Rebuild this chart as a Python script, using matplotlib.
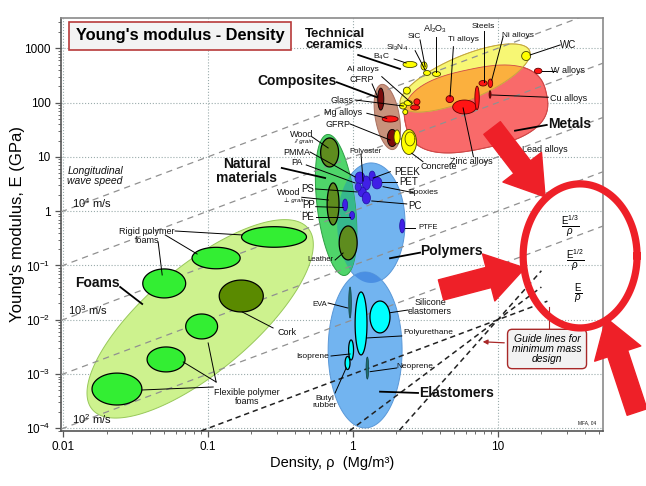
import numpy as np
import matplotlib
matplotlib.use("Agg")
import matplotlib.pyplot as plt
from matplotlib.ticker import FixedLocator, FuncFormatter, LogLocator, NullFormatter

plt.rcParams['font.family'] = ['Liberation Sans', 'DejaVu Sans']
plt.rcParams['mathtext.fontset'] = 'custom'
plt.rcParams['mathtext.rm'] = 'Liberation Sans'
plt.rcParams['mathtext.it'] = 'Liberation Sans:italic'
plt.rcParams['mathtext.bf'] = 'Liberation Sans:bold'

# axis ranges (density Mg/m^3, modulus GPa)
XLIM = (0.0097, 53.2)
YLIM = (8.95e-5, 3614)
x_ticks = [0.01, 0.1, 1, 10]
x_tick_labels = ['0.01', '0.1', '1', '10']
y_ticks = [1e-4, 1e-3, 1e-2, 1e-1, 1, 10, 100, 1000]

# longitudinal wave speed lines, E/rho = const
speed_consts = [100, 10, 1, 0.1, 0.01]
# guide lines for minimum mass design, all through this point
guide_point = (10, 0.01)
guide_slopes = [1, 2, 3]
guide_start = [0.09, 0.95, 2.1]
guide_end = [22, 20, 20]

# envelopes: (rho, E, half-width, half-height, angle); sizes in decades of rho
foam_env = (0.0885, 0.0104, 0.972, 0.365, 40)
natural_env = (0.767, 1.30, 0.49, 0.131, 97)
polymer_env = (1.337, 0.607, 0.234, 0.414, 0)
elastomer_env = (1.216, 0.00278, 0.255, 0.538, 0)
composite_env = (1.73, 54.3, 0.228, 0.083, 100)
ceramic_env = (5.95, 284, 0.483, 0.152, 23)
metal_env = (7.08, 76.3, 0.497, 0.276, 12)

# material bubbles: (rho, E, half-width, half-height)
foam_cells = [(0.286, 0.335, 0.224, 0.071), (0.114, 0.137, 0.166, 0.074),
              (0.050, 0.0467, 0.148, 0.100), (0.0906, 0.00753, 0.110, 0.086),
              (0.0515, 0.00186, 0.131, 0.086), (0.0236, 5.3e-4, 0.172, 0.110)]
cork_cell = (0.170, 0.0274, 0.152, 0.110)
natural_cells = [(0.692, 12.05, 0.062, 0.100), (0.731, 1.36, 0.041, 0.145),
                 (0.929, 0.26, 0.062, 0.117)]
polymer_cells = [(0.885, 1.30, 0.017, 0.041), (0.989, 0.834, 0.017, 0.028),
                 (2.19, 0.534, 0.017, 0.048), (1.12, 4.09, 0.034, 0.041),
                 (1.24, 3.31, 0.028, 0.048), (1.36, 4.45, 0.021, 0.034),
                 (1.47, 3.31, 0.034, 0.041), (1.16, 2.26, 0.028, 0.034),
                 (1.24, 1.75, 0.028, 0.041), (1.09, 2.79, 0.021, 0.028)]
elastomer_cells = [(1.14, 0.00855, 0.041, 0.217), (1.54, 0.01126, 0.069, 0.11),
                   (0.973, 0.00278, 0.017, 0.069), (0.92, 0.0016, 0.017, 0.045)]
elastomer_thin = [(0.957, 0.0208, 0.009, 0.107), (1.26, 0.00129, 0.009, 0.076)]
ceramic_cells = [(2.48, 503, 0.048, 0.021), (3.10, 472, 0.021, 0.028),
                 (3.25, 351, 0.024, 0.017), (3.78, 336, 0.028, 0.017),
                 (15.7, 721, 0.031, 0.031), (2.36, 166, 0.024, 0.024),
                 (2.44, 18.8, 0.052, 0.086), (2.02, 23.3, 0.021, 0.048),
                 (2.22, 86.5, 0.024, 0.021), (2.41, 98.4, 0.028, 0.017),
                 (2.30, 67.1, 0.017, 0.017)]
concrete_ring = (2.48, 21.4, 0.034, 0.048)
metal_cells = [(2.77, 103, 0.021, 0.021), (2.69, 81.3, 0.031, 0.017),
               (4.67, 116, 0.026, 0.024), (5.89, 83, 0.081, 0.048),
               (7.92, 227, 0.028, 0.019), (8.89, 227, 0.016, 0.029),
               (7.2, 122, 0.015, 0.081), (19.0, 382, 0.026, 0.019),
               (1.81, 49.9, 0.055, 0.021)]
cu_cell = (8.85, 141, 0.007, 0.026)
composite_cells = [(1.56, 116, 0.021, 0.076), (1.87, 22.3, 0.034, 0.059)]

# labels: (text, log10 rho, log10 E, size, style, ha)
labels = [
    ("Rigid polymer\nfoams", -1.419, -0.457, 6.5, 'n', 'center'),
    ("Foams", -1.763, -1.322, 10, 'b', 'center'),
    ("Cork", -0.453, -2.243, 6.5, 'n', 'center'),
    ("Flexible polymer\nfoams", -0.729, -3.422, 6.5, 'n', 'center'),
    ("Longitudinal\nwave speed", -1.970, 0.648, 7.5, 'i', 'left'),
    ("10$^4$ m/s", -1.936, 0.151, 8, 'n', 'left'),
    ("10$^3$ m/s", -1.963, -1.820, 8, 'n', 'left'),
    ("10$^2$ m/s", -1.936, -3.827, 8, 'n', 'left'),
    ("Wood", -0.352, 1.403, 6.5, 'n', 'center'),
    ("// grain", -0.336, 1.280, 4.5, 'i', 'center'),
    ("PMMA", -0.386, 1.085, 6.5, 'n', 'center'),
    ("PA", -0.386, 0.888, 6.5, 'n', 'center'),
    ("Natural\nmaterials", -0.731, 0.740, 10, 'b', 'center'),
    ("PS", -0.308, 0.409, 7, 'n', 'center'),
    ("Wood", -0.439, 0.341, 6.5, 'n', 'center'),
    ("⊥ grain", -0.403, 0.206, 4.5, 'i', 'center'),
    ("PP", -0.308, 0.114, 7, 'n', 'center'),
    ("PE", -0.308, -0.101, 7, 'n', 'center'),
    ("Leather", -0.225, -0.899, 5.5, 'n', 'center'),
    ("Polyester", 0.085, 1.096, 5.5, 'n', 'center'),
    ("PEEK", 0.372, 0.727, 7, 'n', 'center'),
    ("PET", 0.388, 0.532, 7, 'n', 'center'),
    ("Epoxies", 0.484, 0.335, 6, 'n', 'center'),
    ("PC", 0.430, 0.095, 7, 'n', 'center'),
    ("PTFE", 0.519, -0.309, 5.5, 'n', 'center'),
    ("Polymers", 0.683, -0.727, 10, 'b', 'center'),
    ("EVA", -0.230, -1.727, 5.5, 'n', 'center'),
    ("Silicone\nelastomers", 0.533, -1.764, 6.5, 'n', 'center'),
    ("Polyurethane", 0.519, -2.243, 6, 'n', 'center'),
    ("Isoprene", -0.274, -2.685, 6, 'n', 'center'),
    ("Butyl\nrubber", -0.191, -3.514, 6, 'n', 'center'),
    ("Neoprene", 0.430, -2.864, 6, 'n', 'center'),
    ("Elastomers", 0.717, -3.354, 10, 'b', 'center'),
    ("Technical\nceramics", -0.329, 3.162, 9.5, 'b', 'left'),
    ("B$_4$C", 0.200, 2.845, 6, 'n', 'center'),
    ("Si$_3$N$_4$", 0.303, 3.0, 6, 'n', 'center'),
    ("SiC", 0.425, 3.214, 6, 'n', 'center'),
    ("Al$_2$O$_3$", 0.568, 3.368, 6.5, 'n', 'center'),
    ("Ti alloys", 0.763, 3.153, 6, 'n', 'center'),
    ("Steels", 0.901, 3.398, 6, 'n', 'center'),
    ("Ni alloys", 1.142, 3.232, 6, 'n', 'center'),
    ("WC", 1.487, 3.061, 7, 'n', 'center'),
    ("W alloys", 1.487, 2.587, 6.5, 'n', 'center'),
    ("Cu alloys", 1.487, 2.066, 6.5, 'n', 'center'),
    ("Metals", 1.499, 1.606, 10, 'b', 'center'),
    ("Lead alloys", 1.328, 1.140, 6.5, 'n', 'center'),
    ("Zinc alloys", 0.821, 0.915, 6.5, 'n', 'center'),
    ("Concrete", 0.590, 0.820, 6.5, 'n', 'center'),
    ("Al alloys", 0.069, 2.613, 6, 'n', 'center'),
    ("CFRP", 0.062, 2.416, 6.5, 'n', 'center'),
    ("Composites", -0.386, 2.403, 10, 'b', 'center'),
    ("Glass", -0.076, 2.035, 6.5, 'n', 'center'),
    ("Mg alloys", -0.065, 1.814, 6.5, 'n', 'center'),
    ("GFRP", -0.099, 1.600, 6.5, 'n', 'center'),
    ("MFA, 04", 1.616, -3.901, 3.5, 'n', 'center'),
]

# leader lines: (log rho1, log E1, log rho2, log E2)
leaders = [
    (-1.226, -0.365, -0.763, -0.438), (-1.343, -0.567, -1.315, -1.175),
    (-1.294, -0.438, -1.074, -0.789), (-0.763, -1.856, -0.550, -2.151),
    (-0.963, -3.238, -1.453, -3.293), (-0.943, -3.146, -1.170, -2.777),
    (-0.943, -3.146, -0.998, -2.427),
    (-0.283, 1.372, -0.170, 1.164), (-0.295, 1.090, 0.016, 0.630),
    (-0.321, 0.851, 0.016, 0.519), (-0.256, 0.409, 0.030, 0.354),
    (-0.352, 0.256, -0.168, 0.206), (-0.256, 0.083, -0.067, 0.067),
    (-0.256, -0.101, -0.019, -0.101), (-0.122, -0.899, -0.067, -0.770),
    (0.057, 1.035, 0.071, 0.556), (0.259, 0.727, 0.141, 0.611),
    (0.303, 0.532, 0.200, 0.532), (0.417, 0.341, 0.209, 0.451),
    (0.372, 0.133, 0.131, 0.188), (0.430, -0.315, 0.361, -0.315),
    (-0.170, -1.691, -0.035, -1.783), (0.381, -1.820, 0.257, -1.870),
    (0.338, -2.298, 0.097, -2.335), (-0.150, -2.667, -0.019, -2.630),
    (-0.122, -3.348, -0.046, -2.888), (0.303, -2.888, 0.119, -2.956),
    (0.285, 2.803, 0.368, 2.729), (0.430, 2.956, 0.499, 2.600),
    (0.464, 3.153, 0.499, 2.661), (0.574, 3.214, 0.574, 2.569),
    (0.694, 3.029, 0.671, 2.109), (0.906, 3.324, 0.906, 2.385),
    (1.037, 3.214, 0.959, 2.416), (1.430, 3.061, 1.223, 2.877),
    (1.395, 2.587, 1.303, 2.587), (1.349, 2.098, 0.959, 2.140),
    (1.156, 1.140, 1.108, 1.188), (0.832, 1.004, 0.761, 1.901),
    (0.484, 0.912, 0.407, 1.066), (0.200, 2.477, 0.407, 1.987),
    (0.133, 2.343, 0.172, 2.103), (0.016, 2.048, 0.349, 1.937),
    (0.097, 1.803, 0.234, 1.711), (-0.019, 1.606, 0.257, 1.311),
]
# leaders of the bold group labels
bold_leaders = [
    (-1.605, -1.396, -1.453, -1.709), (-0.490, 0.796, -0.191, 0.611),
    (0.464, -0.764, 0.257, -0.867), (0.450, -3.348, 0.188, -3.324),
    (0.037, 2.877, 0.326, 2.619), (1.338, 1.588, 1.119, 1.482),
    (-0.110, 2.374, 0.166, 2.098),
]

# red highlight drawn over the chart
circle_spec = (37, 0.15, 0.393, 0.497, 0)
arrows = [((9.14, 34), (21.2, 1.83)), ((4.06, 0.0354), (15.4, 0.09)),
          ((91.4, 2.0e-4), (55.8, 0.0108))]

FIG_W, FIG_H = 6.46, 4.86
AX = [0.0944, 0.1132, 0.839, 0.8498]
ASP = (AX[2] * FIG_W / np.log10(XLIM[1] / XLIM[0])) / (AX[3] * FIG_H / np.log10(YLIM[1] / YLIM[0]))

fig = plt.figure(figsize=(FIG_W, FIG_H), dpi=100)
ax = fig.add_axes(AX)
ax.set_xscale('log')
ax.set_yscale('log')
ax.set_xlim(*XLIM)
ax.set_ylim(*YLIM)


def shape(rho, E, a, b, ang=0.0, n=2.0, npts=240):
    # ellipse (or superellipse) drawn in log space, sizes in decades of rho
    t = np.linspace(0, 2 * np.pi, npts)
    c, s = np.cos(t), np.sin(t)
    u = a * np.sign(c) * np.abs(c) ** (2 / n)
    w = b * np.sign(s) * np.abs(s) ** (2 / n)
    th = np.radians(ang)
    dx = u * np.cos(th) - w * np.sin(th)
    dy = (u * np.sin(th) + w * np.cos(th)) * ASP
    return 10 ** (np.log10(rho) + dx), 10 ** (np.log10(E) + dy)


def envelope(spec, fc, ec, z, n=2.0):
    xs, ys = shape(*spec, n=n)
    return ax.fill(xs, ys, fc=fc, ec=ec, lw=0.7, zorder=z)[0]


def overlap(spec, clip, fc, z, n=2.0):
    xs, ys = shape(*spec, n=n)
    p = ax.fill(xs, ys, fc=fc, ec='none', zorder=z)[0]
    p.set_clip_path(clip)
    return p


def cells(specs, fc, ec, z=5, lw=0.9):
    for rho, E, a, b in specs:
        xs, ys = shape(rho, E, a, b)
        ax.fill(xs, ys, fc=fc, ec=ec, lw=lw, zorder=z)


def P(lx, ly):
    return 10 ** lx, 10 ** ly


# envelopes
envelope(foam_env, '#cdf28e', '#98c85a', 2)
poly = envelope(polymer_env, '#72b4f0', '#5a98d8', 2)
elas = envelope(elastomer_env, '#72b4f0', '#5a98d8', 2)
overlap(elastomer_env, poly, '#4a8fe3', 2.1)
nat = envelope(natural_env, '#4fd56a', '#2e9e45', 2.2)
overlap(natural_env, poly, '#36b88c', 2.3)
envelope(composite_env, '#c8927c', '#a87060', 2.4)
met = envelope(metal_env, '#f96a6a', '#d04848', 2.5, n=2.6)
cer = envelope(ceramic_env, '#f7f774', '#c8c850', 2.6)
overlap(ceramic_env, met, '#fbb03e', 2.7)
for spec, n, col in [(metal_env, 2.6, '#d04848'), (ceramic_env, 2.0, '#c8a040')]:
    xs, ys = shape(*spec, n=n)
    ax.plot(xs, ys, color=col, lw=0.6, zorder=2.8)

# grid and guide lines
ax.grid(True, which='major', ls=':', color='#9aabab', lw=0.8, zorder=1)
rr = np.array(XLIM)
for c in speed_consts:
    ax.plot(rr, c * rr, color='#909090', lw=0.9, dashes=(5, 4), zorder=3)
for m, r0, r1 in zip(guide_slopes, guide_start, guide_end):
    rg = np.array([r0, r1])
    ax.plot(rg, guide_point[1] * (rg / guide_point[0]) ** m, color='#222222',
            lw=1.1, dashes=(3.5, 2.5), zorder=3)

# material bubbles
cells(foam_cells, '#33ee33', 'black')
cells([cork_cell], '#5a8a00', 'black')
cells(natural_cells, '#5e8c1e', 'black')
cells(polymer_cells, '#4020e6', '#2010a0', lw=0.5)
cells(elastomer_cells, '#00ffff', 'black')
cells(elastomer_thin, '#1f6f6f', '#123f3f', lw=0.5)
cells(composite_cells, '#7a0c0c', 'black', lw=0.6)
cells(metal_cells, '#ff1414', '#600000', lw=0.6)
cells([cu_cell], '#8a0000', '#400000', lw=0.5)
cells(ceramic_cells, '#ffff00', '#444400', lw=0.6)
xs, ys = shape(*concrete_ring)
ax.plot(xs, ys, color='#555500', lw=0.6, zorder=5.5)

# leader lines
for x1, y1, x2, y2 in leaders:
    ax.plot([10 ** x1, 10 ** x2], [10 ** y1, 10 ** y2], color='black', lw=0.7, zorder=6)
for x1, y1, x2, y2 in bold_leaders:
    ax.plot([10 ** x1, 10 ** x2], [10 ** y1, 10 ** y2], color='black', lw=1.3, zorder=6)

# text labels
for text, lx, ly, size, style, ha in labels:
    ax.text(*P(lx, ly), text, fontsize=size, ha=ha, va='center', zorder=10,
            fontweight='bold' if style == 'b' else 'normal',
            fontstyle='italic' if style == 'i' else 'normal',
            linespacing=0.95, color='#111111')

ax.text(*P(-1.191, 3.227), "Young's modulus - Density", fontsize=11.8, fontweight='bold',
        ha='center', va='center', zorder=10,
        bbox=dict(boxstyle='square,pad=0.4', fc='#f3f3f3', ec='#b83a3a', lw=1.2))

ax.text(*P(1.340, -2.538), "Guide lines for\nminimum mass\ndesign", fontsize=7.5,
        fontstyle='italic', ha='center', va='center', zorder=10, linespacing=1.0,
        bbox=dict(boxstyle='round,pad=0.45', fc='#f2f2f2', ec='#a82828', lw=1.0))
ax.annotate('', xy=P(0.877, -2.403), xytext=P(1.064, -2.427), zorder=10,
            arrowprops=dict(arrowstyle='-|>', color='#a82828', lw=0.9, mutation_scale=7))
ax.plot(*zip(P(1.354, -2.188), P(1.354, -1.764)), color='#a82828', lw=0.8, zorder=9)

for frac, lx, ly in [(r'$\frac{\mathrm{E}^{1/3}}{\rho}$', 1.499, -0.273),
                     (r'$\frac{\mathrm{E}^{1/2}}{\rho}$', 1.533, -0.899),
                     (r'$\frac{\mathrm{E}}{\rho}$', 1.554, -1.525)]:
    ax.text(*P(lx, ly), frac, fontsize=10, ha='center', va='center', zorder=10)

# red highlight circle and arrows
xs, ys = shape(*circle_spec)
ax.plot(xs, ys, color='#ee2028', lw=5.2, zorder=20, clip_on=False)
for tail, tip in arrows:
    ax.annotate('', xy=tip, xytext=tail, annotation_clip=False, zorder=20,
                arrowprops=dict(arrowstyle='simple,tail_width=1.5,head_width=3.5,head_length=2.7',
                                color='#ee2028', mutation_scale=10, shrinkA=0, shrinkB=0))

# axes styling
ax.xaxis.set_major_locator(FixedLocator(x_ticks))
ax.xaxis.set_major_formatter(FuncFormatter(lambda v, p: x_tick_labels[x_ticks.index(v)] if v in x_ticks else ''))
ax.yaxis.set_major_locator(FixedLocator(y_ticks))
ax.yaxis.set_major_formatter(FuncFormatter(
    lambda v, p: f"{v:.0f}" if v >= 1 else f"10$^{{{int(round(np.log10(v)))}}}$"))
for axis in (ax.xaxis, ax.yaxis):
    axis.set_minor_locator(LogLocator(base=10, subs=np.arange(2, 10), numticks=20))
    axis.set_minor_formatter(NullFormatter())
ax.tick_params(which='major', length=4, width=0.9, labelsize=8.5, color='#555555')
ax.tick_params(which='minor', length=2.2, width=0.6, color='#555555')
for side in ax.spines:
    ax.spines[side].set_color('#8a8a8a')
    ax.spines[side].set_linewidth(1.2)
ax.spines['left'].set_color('#555555')
ax.spines['bottom'].set_color('#555555')

ax.set_ylabel("Young's modulus, E (GPa)", fontsize=12)
ax.set_xlabel("Density, ρ  (Mg/m³)", fontsize=10.5)
ax.yaxis.set_label_coords(-0.066, 0.5)
ax.xaxis.set_label_coords(0.5, -0.06)

fig.savefig('out.png', dpi=100)
